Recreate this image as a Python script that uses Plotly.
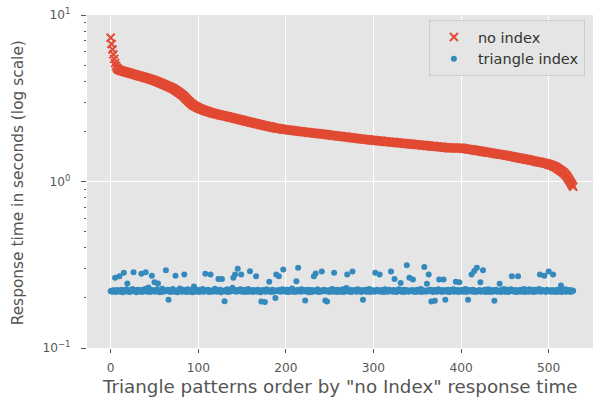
import plotly.graph_objects as go

# "no index" response times (seconds), ordered descending
no_index = [
    7.30, 6.70, 6.20, 5.80, 5.45, 5.15, 4.95, 4.82, 4.74, 4.70,
    4.67, 4.65, 4.63, 4.62, 4.60, 4.58, 4.57, 4.55, 4.53, 4.52,
    4.50, 4.49, 4.47, 4.46, 4.44, 4.43, 4.41, 4.40, 4.38, 4.36,
    4.35, 4.33, 4.32, 4.30, 4.29, 4.27, 4.26, 4.24, 4.23, 4.21,
    4.20, 4.18, 4.17, 4.15, 4.14, 4.12, 4.10, 4.09, 4.07, 4.05,
    4.04, 4.02, 4.00, 3.98, 3.96, 3.94, 3.92, 3.90, 3.88, 3.86,
    3.84, 3.82, 3.80, 3.78, 3.76, 3.74, 3.72, 3.70, 3.68, 3.66,
    3.64, 3.62, 3.59, 3.57, 3.54, 3.51, 3.48, 3.45, 3.42, 3.39,
    3.36, 3.33, 3.30, 3.27, 3.23, 3.19, 3.15, 3.11, 3.07, 3.03,
    3.00, 2.97, 2.94, 2.91, 2.88, 2.86, 2.84, 2.82, 2.80, 2.78,
    2.77, 2.75, 2.74, 2.72, 2.71, 2.70, 2.69, 2.67, 2.66, 2.65,
    2.64, 2.63, 2.62, 2.61, 2.60, 2.59, 2.58, 2.57, 2.56, 2.56,
    2.55, 2.54, 2.53, 2.53, 2.52, 2.51, 2.50, 2.50, 2.49, 2.48,
    2.48, 2.47, 2.46, 2.46, 2.45, 2.44, 2.43, 2.43, 2.42, 2.41,
    2.41, 2.40, 2.39, 2.38, 2.38, 2.37, 2.36, 2.36, 2.35, 2.34,
    2.34, 2.33, 2.32, 2.31, 2.31, 2.30, 2.29, 2.29, 2.28, 2.27,
    2.27, 2.26, 2.25, 2.25, 2.24, 2.23, 2.23, 2.22, 2.21, 2.21,
    2.20, 2.19, 2.19, 2.18, 2.18, 2.17, 2.16, 2.16, 2.15, 2.15,
    2.14, 2.14, 2.13, 2.13, 2.12, 2.11, 2.11, 2.10, 2.10, 2.09,
    2.09, 2.08, 2.08, 2.08, 2.07, 2.07, 2.06, 2.06, 2.05, 2.05,
    2.05, 2.05, 2.04, 2.04, 2.04, 2.03, 2.03, 2.03, 2.02, 2.02,
    2.02, 2.01, 2.01, 2.01, 2.00, 2.00, 2.00, 2.00, 1.99, 1.99,
    1.99, 1.98, 1.98, 1.98, 1.98, 1.97, 1.97, 1.97, 1.96, 1.96,
    1.96, 1.96, 1.95, 1.95, 1.95, 1.94, 1.94, 1.94, 1.94, 1.93,
    1.93, 1.93, 1.93, 1.92, 1.92, 1.92, 1.91, 1.91, 1.91, 1.91,
    1.90, 1.90, 1.90, 1.89, 1.89, 1.89, 1.89, 1.88, 1.88, 1.88,
    1.87, 1.87, 1.87, 1.87, 1.86, 1.86, 1.86, 1.85, 1.85, 1.85,
    1.85, 1.84, 1.84, 1.84, 1.83, 1.83, 1.83, 1.83, 1.82, 1.82,
    1.82, 1.82, 1.81, 1.81, 1.81, 1.80, 1.80, 1.80, 1.80, 1.79,
    1.79, 1.79, 1.79, 1.78, 1.78, 1.78, 1.78, 1.77, 1.77, 1.77,
    1.77, 1.77, 1.76, 1.76, 1.76, 1.76, 1.75, 1.75, 1.75, 1.75,
    1.75, 1.74, 1.74, 1.74, 1.74, 1.73, 1.73, 1.73, 1.73, 1.73,
    1.72, 1.72, 1.72, 1.72, 1.72, 1.71, 1.71, 1.71, 1.71, 1.71,
    1.70, 1.70, 1.70, 1.70, 1.70, 1.69, 1.69, 1.69, 1.69, 1.69,
    1.68, 1.68, 1.68, 1.68, 1.68, 1.67, 1.67, 1.67, 1.67, 1.67,
    1.66, 1.66, 1.66, 1.66, 1.66, 1.65, 1.65, 1.65, 1.65, 1.65,
    1.64, 1.64, 1.64, 1.64, 1.64, 1.63, 1.63, 1.63, 1.63, 1.63,
    1.62, 1.62, 1.62, 1.62, 1.62, 1.61, 1.61, 1.61, 1.61, 1.61,
    1.60, 1.60, 1.60, 1.60, 1.60, 1.59, 1.59, 1.59, 1.59, 1.59,
    1.59, 1.59, 1.59, 1.59, 1.59, 1.59, 1.59, 1.59, 1.59, 1.59,
    1.59, 1.59, 1.58, 1.58, 1.58, 1.57, 1.57, 1.57, 1.56, 1.56,
    1.56, 1.56, 1.55, 1.55, 1.55, 1.54, 1.54, 1.54, 1.53, 1.53,
    1.53, 1.53, 1.52, 1.52, 1.52, 1.51, 1.51, 1.51, 1.50, 1.50,
    1.50, 1.50, 1.49, 1.49, 1.49, 1.48, 1.48, 1.48, 1.47, 1.47,
    1.47, 1.46, 1.46, 1.46, 1.46, 1.45, 1.45, 1.45, 1.45, 1.44,
    1.44, 1.44, 1.43, 1.43, 1.43, 1.42, 1.42, 1.42, 1.41, 1.41,
    1.41, 1.40, 1.40, 1.40, 1.39, 1.39, 1.39, 1.38, 1.38, 1.38,
    1.37, 1.37, 1.37, 1.36, 1.36, 1.36, 1.35, 1.35, 1.35, 1.34,
    1.34, 1.34, 1.33, 1.33, 1.33, 1.32, 1.32, 1.32, 1.31, 1.31,
    1.31, 1.30, 1.30, 1.30, 1.29, 1.29, 1.29, 1.28, 1.28, 1.27,
    1.27, 1.26, 1.26, 1.25, 1.25, 1.24, 1.23, 1.23, 1.22, 1.21,
    1.20, 1.19, 1.18, 1.17, 1.16, 1.15, 1.14, 1.13, 1.12, 1.10,
    1.09, 1.07, 1.05, 1.03, 1.01, 0.99, 0.97, 0.95, 0.93,
]

# "triangle index" response times (milliseconds), same pattern order
triangle_index_ms = [
    219, 221, 218, 222, 220, 264, 217, 223, 219, 221,
    270, 218, 224, 220, 216, 283, 222, 219, 225, 244,
    218, 221, 217, 223, 220, 226, 285, 219, 222, 216,
    221, 224, 218, 220, 223, 279, 217, 222, 219, 226,
    285, 220, 218, 231, 221, 217, 224, 272, 219, 222,
    248, 218, 221, 225, 244, 219, 216, 223, 220, 227,
    218, 222, 219, 293, 221, 224, 195, 220, 217, 223,
    219, 226, 218, 221, 272, 220, 216, 223, 219, 228,
    221, 218, 224, 219, 276, 222, 217, 220, 225, 218,
    221, 219, 223, 216, 220, 234, 218, 222, 219, 224,
    220, 217, 223, 219, 221, 226, 218, 220, 279, 222,
    219, 224, 217, 221, 276, 220, 218, 223, 219, 227,
    221, 218, 222, 260, 219, 224, 216, 260, 221, 219,
    191, 222, 218, 225, 220, 217, 223, 219, 221, 230,
    264, 220, 276, 218, 223, 299, 219, 221, 225, 276,
    218, 222, 219, 224, 217, 221, 220, 226, 218, 289,
    221, 219, 223, 217, 222, 220, 270, 218, 224, 219,
    221, 216, 190, 223, 219, 222, 189, 218, 225, 220,
    219, 250, 222, 217, 221, 224, 218, 220, 200, 276,
    222, 219, 270, 223, 218, 221, 225, 296, 219, 222,
    218, 224, 220, 217, 223, 219, 221, 228, 218, 222,
    220, 217, 252, 223, 303, 219, 222, 218, 225, 220,
    219, 223, 193, 221, 218, 224, 220, 216, 222, 219,
    223, 218, 270, 221, 280, 219, 225, 217, 222, 220,
    218, 288, 221, 224, 219, 193, 222, 190, 220, 217,
    223, 219, 221, 226, 218, 283, 220, 222, 217, 224,
    219, 221, 218, 223, 220, 225, 217, 222, 219, 229,
    276, 220, 218, 224, 221, 217, 288, 222, 219, 223,
    220, 218, 225, 221, 219, 223, 217, 221, 195, 222,
    219, 224, 218, 221, 220, 226, 217, 223, 219, 222,
    221, 218, 283, 220, 224, 219, 222, 276, 218, 221,
    223, 219, 217, 225, 220, 222, 218, 221, 224, 219,
    288, 221, 218, 223, 260, 220, 217, 222, 219, 225,
    221, 246, 218, 223, 220, 217, 224, 219, 314, 222,
    218, 264, 221, 219, 223, 258, 220, 217, 222, 219,
    224, 218, 221, 220, 226, 217, 223, 219, 307, 221,
    218, 243, 222, 276, 219, 224, 190, 220, 217, 223,
    192, 219, 222, 218, 225, 258, 220, 221, 217, 223,
    258, 219, 195, 222, 218, 224, 220, 217, 223, 219,
    221, 225, 218, 222, 250, 219, 223, 217, 248, 221,
    219, 224, 218, 222, 220, 226, 217, 221, 195, 223,
    219, 222, 276, 218, 224, 290, 220, 217, 303, 221,
    219, 223, 248, 218, 221, 293, 220, 224, 217, 222,
    219, 225, 218, 221, 223, 217, 220, 222, 192, 219,
    224, 218, 221, 220, 243, 217, 223, 219, 222, 226,
    218, 221, 219, 224, 217, 222, 220, 225, 270, 219,
    221, 218, 223, 220, 217, 270, 222, 219, 224, 218,
    221, 220, 226, 217, 223, 219, 222, 218, 225, 220,
    219, 223, 217, 221, 224, 218, 220, 222, 219, 226,
    276, 218, 221, 223, 219, 272, 220, 217, 224, 222,
    288, 219, 221, 218, 223, 276, 220, 217, 222, 219,
    224, 218, 221, 220, 237, 217, 223, 219, 222, 225,
    218, 221, 219, 223, 220, 217, 222, 219, 221,
]

pattern_order = list(range(len(no_index)))
triangle_index = [v / 1000.0 for v in triangle_index_ms]

x_tick_vals = [0, 100, 200, 300, 400, 500]
y_tick_vals = [0.1, 1, 10]
y_tick_text = ["10<sup>\u22121</sup>", "10<sup>0</sup>", "10<sup>1</sup>"]
y_minor_vals = [m * d for d in (0.1, 1) for m in range(2, 10)]
x_range = [-27.05, 550.6]

x_title = 'Triangle patterns order by "no Index" response time'
y_title = "Response time in seconds (log scale)"

RED = "#E24A33"
BLUE = "#348ABD"
TXT = "#555555"
FONT = "DejaVu Sans"

fig = go.Figure()
fig.add_trace(go.Scatter(
    x=pattern_order, y=no_index, mode="markers", name="no index",
    marker=dict(symbol="x-thin", size=8, color=RED,
                line=dict(color=RED, width=2)),
))
fig.add_trace(go.Scatter(
    x=pattern_order[:len(triangle_index)], y=triangle_index, mode="markers",
    name="triangle index",
    marker=dict(symbol="circle", size=6, color=BLUE, line=dict(width=0)),
))

fig.update_layout(
    width=593, height=403,
    margin=dict(l=87, r=0, t=15, b=55, autoexpand=False),
    paper_bgcolor="white",
    plot_bgcolor="#E5E5E5",
    font=dict(family=FONT, color=TXT, size=12),
    showlegend=True,
    legend=dict(
        x=0.984, y=0.985, xanchor="right", yanchor="top",
        bgcolor="#E5E5E5", bordercolor="#CCCCCC", borderwidth=1,
        font=dict(family=FONT, size=14.5, color="#333333"),
        itemsizing="trace", itemwidth=38, tracegroupgap=0,
    ),
    annotations=[
        dict(text=x_title, xref="paper", yref="paper", x=0.5, y=-0.116,
             xanchor="center", yanchor="middle", showarrow=False,
             font=dict(family=FONT, size=18.3, color=TXT)),
        dict(text=y_title, xref="paper", yref="paper", x=-0.136, y=0.495,
             xanchor="center", yanchor="middle", showarrow=False,
             textangle=-90,
             font=dict(family=FONT, size=15.4, color=TXT)),
    ],
)
fig.update_xaxes(
    range=x_range, automargin=False,
    tickmode="array", tickvals=x_tick_vals,
    ticks="outside", ticklen=4, tickcolor=TXT, tickwidth=1,
    ticklabelstandoff=4,
    showgrid=True, gridcolor="white", gridwidth=1,
    zeroline=False, showline=False,
    tickfont=dict(size=12.2, color=TXT),
)
fig.update_yaxes(
    type="log", range=[-1, 1], automargin=False,
    tickmode="array", tickvals=y_tick_vals, ticktext=y_tick_text,
    ticks="outside", ticklen=5, tickcolor=TXT, tickwidth=1,
    ticklabelstandoff=8, ticklabeloverflow="allow",
    minor=dict(tickmode="array", tickvals=y_minor_vals, ticks="outside",
               ticklen=2.5, tickcolor=TXT, tickwidth=1, showgrid=False),
    showgrid=True, gridcolor="white", gridwidth=1,
    zeroline=False, showline=False,
    tickfont=dict(size=12.2, color=TXT),
)

fig.write_html(
    "out.html",
    config={"displayModeBar": False},
    post_script="document.body.style.margin='0';document.body.style.overflow='hidden';",
)
